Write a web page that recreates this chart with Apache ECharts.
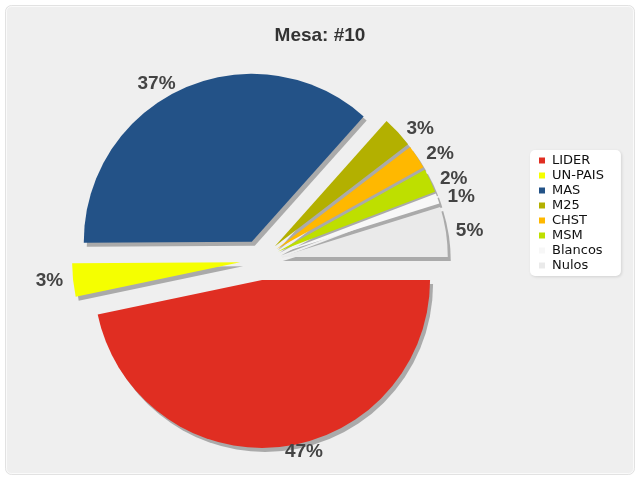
<!DOCTYPE html>
<html>
<head>
<meta charset="utf-8">
<script src="https://cdn.jsdelivr.net/npm/echarts@6/dist/echarts.min.js"></script>
<style>
html,body{margin:0;padding:0;background:#fff;}
#chart{width:640px;height:480px;}
</style>
</head>
<body>
<div id="chart"></div>
<script>
var title = 'Mesa: #10';
var categories = ['LIDER', 'UN-PAIS', 'MAS', 'M25', 'CHST', 'MSM', 'Blancos', 'Nulos'];
var values = [46.7, 3.2, 36.7, 3.0, 2.3, 2.3, 1.0, 4.8];
var colors = ['#E02E22', '#F5FF00', '#235287', '#B3B000', '#FFB800', '#BEDF00', '#F7F7F7', '#EAEAEA'];

var chart = echarts.init(document.getElementById('chart'), null, {renderer: 'canvas'});
var data = categories.map(function (c, i) {
  return {name: c, value: values[i], selected: true, itemStyle: {color: colors[i]}};
});
chart.setOption({
  animation: false,
  backgroundColor: '#ffffff',
  graphic: [{
    type: 'rect', z: -10, silent: true,
    shape: {x: 5.5, y: 5.5, width: 629, height: 469, r: 6},
    style: {fill: '#efefef', stroke: '#e2e2e2', lineWidth: 1}
  }, {
    type: 'rect', z: -9, silent: true,
    shape: {x: 6.5, y: 6.5, width: 627, height: 467, r: 5},
    style: {fill: 'none', stroke: '#fafafa', lineWidth: 1}
  }],
  title: {
    text: title, left: 'center', top: 21,
    textStyle: {fontFamily: 'Liberation Sans, Arial, sans-serif', fontSize: 19, fontWeight: 'bold', color: '#333'}
  },
  color: colors,
  legend: {
    orient: 'vertical', left: 530, top: 150,
    backgroundColor: '#ffffff', borderRadius: 5,
    shadowBlur: 3, shadowColor: 'rgba(0,0,0,0.12)', shadowOffsetX: 1, shadowOffsetY: 1,
    padding: [4, 17, 4, 9],
    itemWidth: 6, itemHeight: 6, itemGap: 2, icon: 'rect',
    selectedMode: false,
    textStyle: {fontFamily: 'DejaVu Sans, Verdana, sans-serif', fontSize: 13, color: '#111', padding: [0, 0, 0, 2]},
    data: categories
  },
  series: [{
    type: 'pie',
    center: [260, 260],
    radius: 168,
    startAngle: 0,
    clockwise: true,
    selectedMode: 'multiple',
    selectedOffset: 20,
    avoidLabelOverlap: false,
    minShowLabelAngle: 0,
    labelLayout: {hideOverlap: false},
    emphasis: {disabled: true},
    itemStyle: {shadowBlur: 0, shadowOffsetX: 3, shadowOffsetY: 4, shadowColor: '#aaaaaa'},
    label: {
      show: true, position: 'outside',
      formatter: function (p) { return Math.round(p.percent) + '%'; },
      fontFamily: 'Liberation Sans, Arial, sans-serif', fontSize: 19, fontWeight: 'bold', color: '#444'
    },
    labelLine: {show: false, length: 5, length2: 0},
    data: data
  }]
});
</script>
</body>
</html>
